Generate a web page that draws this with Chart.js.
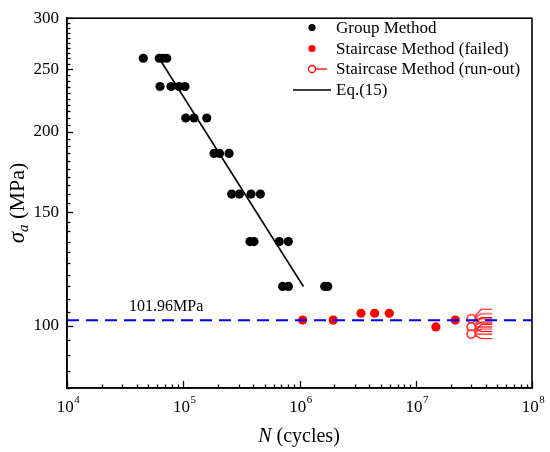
<!DOCTYPE html>
<html><head><meta charset="utf-8">
<script src="https://cdn.jsdelivr.net/npm/chart.js@4.4.0/dist/chart.umd.min.js"></script>
<style>html,body{margin:0;padding:0;background:#fff;}</style>
</head><body>
<canvas id="c" width="550" height="452"></canvas>
<script>
// ---- data ----
const groupN = [45300, 62200, 66500, 72100, 63100, 78500, 91900, 103500, 105000, 123700, 159300, 183900, 205000, 247700, 261000, 303700, 382900, 460500, 375000, 406000, 670000, 801000, 716000, 802000, 1650000, 1750000];
const groupS = [260, 260, 260, 260, 235, 235, 235, 235, 210, 210, 210, 185, 185, 185, 160, 160, 160, 160, 135, 135, 135, 135, 115, 115, 115, 115];
const failedN = [1065000, 1950000, 3380000, 4430000, 5920000, 14900000, 21900000];
const failedS = [102, 102, 104.5, 104.5, 104.5, 99.5, 102];
const runoutN = [30000000, 30000000, 30000000];
const runoutS = [102.5, 99.5, 97];
const eqN = [62000, 1080000];
const eqS = [260, 115];
const limitN = [1e4, 1e8];
const limitS = [101.96, 101.96];
const limitLabel = '101.96MPa';
const xMajor = [1e4, 1e5, 1e6, 1e7, 1e8];
const yMajor = [100, 150, 200, 250, 300];
const legendLabels = ['Group Method', 'Staircase Method (failed)', 'Staircase Method (run-out)', 'Eq.(15)'];

const SERIF = "'Liberation Serif', 'Times New Roman', serif";
const pts = (xs, ys) => xs.map((x, i) => ({x: x, y: ys[i]}));

// run-out marker: circle with fan of arrows to the right
function runoutMarker() {
  const c = document.createElement('canvas');
  c.width = 50; c.height = 32;
  const g = c.getContext('2d');
  const cx = 25, cy = 16, r = 4.1;
  g.strokeStyle = '#ff0000'; g.lineWidth = 1.2;
  [-9.5, -5, 0, 4.5].forEach(dy => {
    g.beginPath();
    g.moveTo(cx + r, cy + dy * 0.3);
    g.lineTo(cx + 10, cy + dy);
    g.lineTo(cx + 21, cy + dy);
    g.stroke();
  });
  g.beginPath(); g.arc(cx, cy, r, 0, Math.PI * 2);
  g.fillStyle = '#fff'; g.fill(); g.lineWidth = 1.4; g.stroke();
  return c;
}

const decor = {
  id: 'decor',
  afterDraw(chart) {
    const ctx = chart.ctx, a = chart.chartArea;
    const xs = chart.scales.x, ys = chart.scales.y;
    ctx.save();
    // frame
    ctx.strokeStyle = '#000'; ctx.lineWidth = 1.6;
    ctx.strokeRect(a.left, a.top, a.right - a.left, a.bottom - a.top);
    // x ticks (inward)
    ctx.lineWidth = 1.3;
    for (let d = 4; d <= 8; d++) {
      for (let m = 1; m <= 9; m++) {
        if (d === 8 && m > 1) break;
        const v = m * Math.pow(10, d);
        const px = Math.round(xs.getPixelForValue(v)) + 0.5;
        const len = m === 1 ? 7 : 3.5;
        ctx.beginPath(); ctx.moveTo(px, a.bottom); ctx.lineTo(px, a.bottom - len); ctx.stroke();
      }
    }
    // y ticks (inward)
    for (let v = 80; v <= 300; v += 5) {
      const py = Math.round(ys.getPixelForValue(v)) + 0.5;
      const len = v % 50 === 0 ? 6 : 3.5;
      ctx.beginPath(); ctx.moveTo(a.left, py); ctx.lineTo(a.left + len, py); ctx.stroke();
    }
    // x tick labels 10^n
    ctx.fillStyle = '#000'; ctx.textBaseline = 'alphabetic';
    xMajor.forEach(v => {
      const e = String(Math.round(Math.log10(v)));
      ctx.font = '17px ' + SERIF;
      const w1 = ctx.measureText('10').width;
      ctx.font = '11px ' + SERIF;
      const w2 = ctx.measureText(e).width;
      const px = xs.getPixelForValue(v);
      const x0 = px - (w1 + w2) / 2 + 1;
      ctx.font = '17px ' + SERIF; ctx.textAlign = 'left';
      ctx.fillText('10', x0, 412);
      ctx.font = '11px ' + SERIF;
      ctx.fillText(e, x0 + w1 + 0.5, 403);
    });
    // x title
    ctx.font = 'italic 20px ' + SERIF;
    const wN = ctx.measureText('N').width;
    ctx.font = '20px ' + SERIF;
    const wRest = ctx.measureText(' (cycles)').width;
    let x0 = 299 - (wN + wRest) / 2;
    ctx.font = 'italic 20px ' + SERIF; ctx.fillText('N', x0, 442);
    ctx.font = '20px ' + SERIF; ctx.fillText(' (cycles)', x0 + wN, 442);
    // y title (rotated)
    ctx.save();
    ctx.translate(24, 203); ctx.rotate(-Math.PI / 2);
    ctx.font = 'italic 23px ' + SERIF; const ws = ctx.measureText('σ').width;
    ctx.font = 'italic 15px ' + SERIF; const wa = ctx.measureText('a').width;
    ctx.font = '22px ' + SERIF; const wm = ctx.measureText(' (MPa)').width;
    let t0 = -(ws + wa + wm) / 2;
    ctx.font = 'italic 23px ' + SERIF; ctx.fillText('σ', t0, 0);
    ctx.font = 'italic 15px ' + SERIF; ctx.fillText('a', t0 + ws, 4);
    ctx.font = '22px ' + SERIF; ctx.fillText(' (MPa)', t0 + ws + wa, 0);
    ctx.restore();
    // fatigue limit label
    ctx.font = '16px ' + SERIF; ctx.textAlign = 'left';
    ctx.fillText(limitLabel, 129, 311);
    // legend
    const lx = 312, tx = 336, ly = [27.5, 48.5, 69, 90];
    ctx.textBaseline = 'middle'; ctx.font = '17px ' + SERIF;
    legendLabels.forEach((t, i) => ctx.fillText(t, tx, ly[i] + 1));
    ctx.fillStyle = '#000';
    ctx.beginPath(); ctx.arc(lx, ly[0], 3.6, 0, Math.PI * 2); ctx.fill();
    ctx.fillStyle = '#ff0000';
    ctx.beginPath(); ctx.arc(lx, ly[1], 3.6, 0, Math.PI * 2); ctx.fill();
    ctx.strokeStyle = '#ff0000'; ctx.lineWidth = 1.3;
    ctx.beginPath(); ctx.moveTo(lx + 3.5, ly[2]); ctx.lineTo(327, ly[2]); ctx.stroke();
    ctx.beginPath(); ctx.arc(lx, ly[2], 3.5, 0, Math.PI * 2);
    ctx.fillStyle = '#fff'; ctx.fill(); ctx.stroke();
    ctx.strokeStyle = '#000'; ctx.lineWidth = 1.6;
    ctx.beginPath(); ctx.moveTo(293, ly[3]); ctx.lineTo(331, ly[3]); ctx.stroke();
    ctx.restore();
  }
};

new Chart(document.getElementById('c'), {
  type: 'scatter',
  data: {
    datasets: [
      {label: legendLabels[0], data: pts(groupN, groupS), backgroundColor: '#000', pointRadius: 4.6, pointBorderWidth: 0, order: 1},
      {label: legendLabels[1], data: pts(failedN, failedS), backgroundColor: '#ff0000', pointRadius: 4.6, pointBorderWidth: 0, order: 1},
      {label: legendLabels[2], data: pts(runoutN, runoutS), pointStyle: runoutMarker(), order: 2},
      {label: legendLabels[3], data: pts(eqN, eqS), showLine: true, borderColor: '#000', borderWidth: 1.6, pointRadius: 0, order: 3},
      {label: 'limit', data: pts(limitN, limitS), showLine: true, borderColor: '#0000ff', borderWidth: 2, borderDash: [12, 7], pointRadius: 0, order: 0}
    ]
  },
  options: {
    responsive: false,
    animation: false,
    layout: {padding: {left: 0, top: 13, right: 18, bottom: 0}},
    plugins: {legend: {display: false}, tooltip: {enabled: false}},
    scales: {
      x: {
        type: 'logarithmic', min: 1e4, max: 1e8,
        grid: {display: false, drawTicks: false},
        border: {display: true, color: '#000', width: 1.6},
        ticks: {display: false},
        afterFit: s => { s.height = 64; }
      },
      y: {
        type: 'logarithmic', min: 80, max: 300,
        grid: {display: false, drawTicks: false},
        border: {display: true, color: '#000', width: 1.6},
        afterBuildTicks: s => { s.ticks = yMajor.map(v => ({value: v})); },
        ticks: {color: '#000', padding: 8, font: {family: SERIF, size: 17}, callback: v => String(v)},
        afterFit: s => { s.width = 67; }
      }
    }
  },
  plugins: [decor]
});
</script>
</body></html>
